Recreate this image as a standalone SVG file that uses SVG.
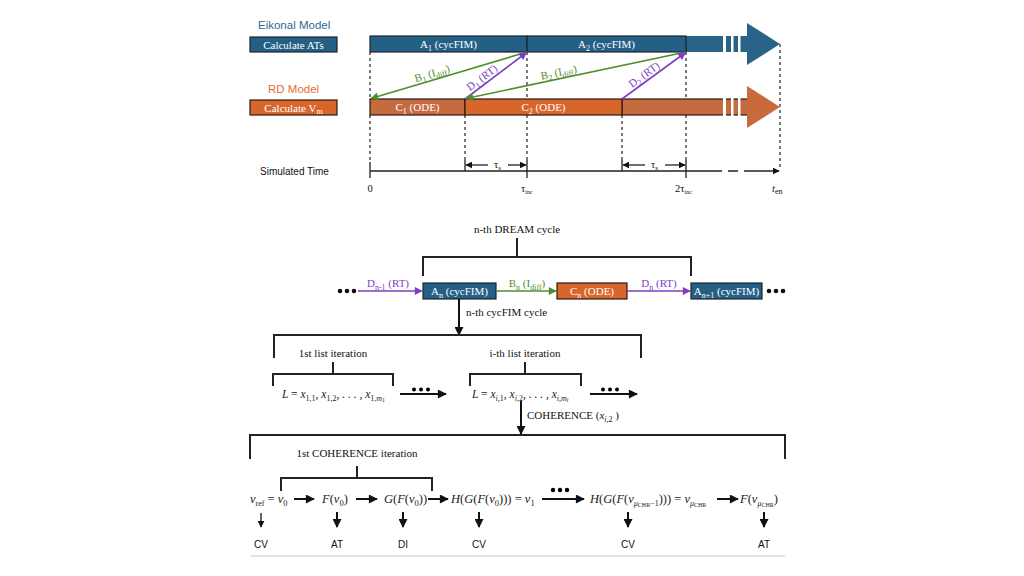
<svg xmlns="http://www.w3.org/2000/svg" width="1024" height="576" viewBox="0 0 1024 576">
<style>
.sans{font-family:"Liberation Sans",Arial,sans-serif}
.serif{font-family:"Liberation Serif","Times New Roman",serif}
.wt{font-family:"Liberation Serif","Times New Roman",serif;font-size:11px;fill:#fff;text-anchor:middle}
.bk{font-family:"Liberation Serif","Times New Roman",serif;font-size:11px;fill:#111}
.math{font-family:"Liberation Serif","Times New Roman",serif;font-style:italic;font-size:12.5px;fill:#222}
.m10{font-family:"Liberation Serif","Times New Roman",serif;font-style:italic;font-size:11.5px;fill:#222}
.up{font-style:normal}
.lab{font-family:"Liberation Sans",Arial,sans-serif;font-size:10px;fill:#111;text-anchor:middle}
.blue{fill:#245F86;stroke:#1a2630;stroke-width:1.2}
.org{fill:#D8662B;stroke:#2a1a12;stroke-width:1.2}
.org2{fill:#C66B3F;stroke:#2a1a12;stroke-width:1.2}
.dash{stroke:#333;stroke-width:1.3;stroke-dasharray:3,3;fill:none}
.br{stroke:#222;stroke-width:2;fill:none}
.ln{stroke:#222;stroke-width:1.3;fill:none}
.thick{stroke:#111;stroke-width:2;fill:none}
.g{stroke:#4F8E2F;stroke-width:1.6;fill:none}
.p{stroke:#7B3FBF;stroke-width:1.6;fill:none}
</style>
<defs>
<marker id="ah" viewBox="0 0 10 10" refX="9" refY="5" markerWidth="10" markerHeight="9" markerUnits="userSpaceOnUse" orient="auto"><path d="M0,0 L10,5 L0,10 z" fill="#111"/></marker>
<marker id="ahs" viewBox="0 0 10 10" refX="9" refY="5" markerWidth="7" markerHeight="7" markerUnits="userSpaceOnUse" orient="auto"><path d="M0,0 L10,5 L0,10 z" fill="#111"/></marker>
<marker id="ahg" viewBox="0 0 10 10" refX="9" refY="5" markerWidth="9" markerHeight="8" markerUnits="userSpaceOnUse" orient="auto"><path d="M0,0 L10,5 L0,10 z" fill="#4F8E2F"/></marker>
<marker id="ahp" viewBox="0 0 10 10" refX="9" refY="5" markerWidth="9" markerHeight="8" markerUnits="userSpaceOnUse" orient="auto"><path d="M0,0 L10,5 L0,10 z" fill="#7B3FBF"/></marker>
</defs>

<!-- ===== Top timeline ===== -->
<g id="labels-top">
<text x="258" y="29" class="sans" font-size="11.5" fill="#2F6A98">Eikonal Model</text>
<text x="268" y="93" class="sans" font-size="11.5" fill="#E0702D">RD Model</text>
<text x="260" y="175" class="sans" font-size="10" fill="#111">Simulated Time</text>
</g>
<g id="calc-ats"><rect x="250" y="37" width="87" height="15" class="blue"/><text x="293.5" y="48.5" class="wt">Calculate ATs</text></g>
<g id="calc-vm"><rect x="250" y="100" width="87" height="15" class="org"/><text x="293.5" y="111.5" class="wt">Calculate V<tspan font-size="8" dy="2.5">m</tspan></text></g>

<g id="dashes">
<path class="dash" d="M370,52V99M370,115V162M465,115V160M527,52V99M527,115V160M622,115V160M686,52V99M686,115V160M780,44V168"/>
</g>

<g id="eikonal-bar">
<rect x="686" y="36" width="62" height="16" fill="#2A6388"/>
<polygon points="747,23 780,44 747,65" fill="#2A6388"/>
<rect x="370" y="36" width="157" height="16" class="blue"/>
<rect x="527" y="36" width="159" height="16" class="blue"/>
<rect x="723" y="34" width="3" height="20" fill="#fff"/>
<rect x="731" y="34" width="2.5" height="20" fill="#fff"/>
<rect x="738" y="34" width="2.5" height="20" fill="#fff"/>
<text x="448.5" y="48" class="wt">A<tspan font-size="8" dy="2.5">1</tspan><tspan dy="-2.5"> (cycFIM)</tspan></text>
<text x="606.5" y="48" class="wt">A<tspan font-size="8" dy="2.5">2</tspan><tspan dy="-2.5"> (cycFIM)</tspan></text>
</g>

<g id="rd-bar">
<rect x="622" y="99" width="126" height="16" class="org2"/>
<polygon points="747,86 780,107 747,128" fill="#C86A3C"/>
<rect x="370" y="99" width="95" height="16" class="org2"/>
<rect x="465" y="99" width="157" height="16" class="org"/>
<rect x="723" y="97" width="3" height="20" fill="#fff"/>
<rect x="731" y="97" width="2.5" height="20" fill="#fff"/>
<rect x="738" y="97" width="2.5" height="20" fill="#fff"/>
<text x="417.5" y="111" class="wt">C<tspan font-size="8" dy="2.5">1</tspan><tspan dy="-2.5"> (ODE)</tspan></text>
<text x="543.5" y="111" class="wt">C<tspan font-size="8" dy="2.5">2</tspan><tspan dy="-2.5"> (ODE)</tspan></text>
</g>

<g id="top-connectors">
<line x1="527" y1="52" x2="371" y2="98.5" class="g" marker-end="url(#ahg)"/>
<line x1="465" y1="99" x2="526.5" y2="52.5" class="p" marker-end="url(#ahp)"/>
<line x1="686" y1="52" x2="466" y2="98.5" class="g" marker-end="url(#ahg)"/>
<line x1="622" y1="99" x2="685.5" y2="52.5" class="p" marker-end="url(#ahp)"/>
<g class="serif" font-size="11" text-anchor="middle">
<text transform="translate(434,79.8) rotate(-16.7)" y="-3" fill="#4F8E2F">B<tspan font-size="8" dy="2.5">1</tspan><tspan dy="-2.5"> (I</tspan><tspan font-size="8" dy="2.5">diff</tspan><tspan dy="-2.5">)</tspan></text>
<text transform="translate(486,83) rotate(-37.2)" y="-3" fill="#7B3FBF">D<tspan font-size="8" dy="2.5">1</tspan><tspan dy="-2.5"> (RT)</tspan></text>
<text transform="translate(560,78.8) rotate(-12)" y="-3" fill="#4F8E2F">B<tspan font-size="8" dy="2.5">2</tspan><tspan dy="-2.5"> (I</tspan><tspan font-size="8" dy="2.5">diff</tspan><tspan dy="-2.5">)</tspan></text>
<text transform="translate(648,80) rotate(-36.3)" y="-3" fill="#7B3FBF">D<tspan font-size="8" dy="2.5">2</tspan><tspan dy="-2.5"> (RT)</tspan></text>
</g>
</g>

<g id="time-axis">
<path class="ln" d="M370,171H722M728,171H738"/>
<line x1="744" y1="171" x2="779" y2="171" class="ln" marker-end="url(#ahs)"/>
<path class="ln" d="M370,162V178M465,160V171M527,160V178M622,160V171M686,160V178"/>
<line x1="488" y1="165" x2="466" y2="165" class="ln" marker-end="url(#ahs)"/>
<line x1="508" y1="165" x2="526" y2="165" class="ln" marker-end="url(#ahs)"/>
<line x1="645" y1="165" x2="623" y2="165" class="ln" marker-end="url(#ahs)"/>
<line x1="665" y1="165" x2="685" y2="165" class="ln" marker-end="url(#ahs)"/>
<g class="serif" font-size="10.5" fill="#111">
<text x="494" y="168">τ<tspan font-size="7" dy="2">s</tspan></text>
<text x="651" y="168">τ<tspan font-size="7" dy="2">s</tspan></text>
<text x="370" y="192" text-anchor="middle">0</text>
<text x="521" y="192">τ<tspan font-size="6" dy="2">inc</tspan></text>
<text x="675" y="192">2τ<tspan font-size="6" dy="2">inc</tspan></text>
<text x="772" y="192" font-style="italic">t<tspan font-style="normal" font-size="8" dy="2">en</tspan></text>
</g>
</g>

<!-- ===== DREAM cycle ===== -->
<g id="dream-bracket">
<text x="517" y="233" class="bk" text-anchor="middle">n-th DREAM cycle</text>
<path class="br" d="M517,238V257M423,276V257H691V276"/>
</g>
<g id="node-An"><rect x="423" y="283" width="73" height="16" class="blue"/><text x="459.5" y="295" class="wt">A<tspan font-size="8" dy="2.5">n</tspan><tspan dy="-2.5"> (cycFIM)</tspan></text></g>
<g id="node-Cn"><rect x="557" y="283" width="70" height="16" class="org"/><text x="592" y="295" class="wt">C<tspan font-size="8" dy="2.5">n</tspan><tspan dy="-2.5"> (ODE)</tspan></text></g>
<g id="node-An1"><rect x="691" y="283" width="71" height="16" class="blue"/><text x="726.5" y="295" class="wt">A<tspan font-size="8" dy="2.5">n+1</tspan><tspan dy="-2.5"> (cycFIM)</tspan></text></g>
<g id="dots-dream" fill="#111">
<circle cx="340" cy="291" r="2.3"/><circle cx="347" cy="291" r="2.3"/><circle cx="354" cy="291" r="2.3"/>
<circle cx="769" cy="291" r="2.3"/><circle cx="776" cy="291" r="2.3"/><circle cx="783" cy="291" r="2.3"/>
</g>
<g id="dream-connectors">
<line x1="358" y1="291" x2="422" y2="291" class="p" marker-end="url(#ahp)"/>
<line x1="496" y1="291" x2="556" y2="291" class="g" marker-end="url(#ahg)"/>
<line x1="627" y1="291" x2="690" y2="291" class="p" marker-end="url(#ahp)"/>
<g class="serif" font-size="11" text-anchor="middle">
<text x="388" y="287" fill="#7B3FBF">D<tspan font-size="8" dy="2.5">n-1</tspan><tspan dy="-2.5"> (RT)</tspan></text>
<text x="527" y="287" fill="#4F8E2F">B<tspan font-size="8" dy="2.5">n</tspan><tspan dy="-2.5"> (I</tspan><tspan font-size="8" dy="2.5">diff</tspan><tspan dy="-2.5">)</tspan></text>
<text x="659" y="287" fill="#7B3FBF">D<tspan font-size="8" dy="2.5">n</tspan><tspan dy="-2.5"> (RT)</tspan></text>
</g>
<line x1="459" y1="299" x2="459" y2="335" class="thick" marker-end="url(#ah)"/>
<text x="466" y="316" class="bk" font-size="10.5">n-th cycFIM cycle</text>
</g>

<!-- ===== cycFIM lists ===== -->
<g id="list-bracket">
<path class="br" d="M274,358V335H641V358"/>
<text x="333" y="357" class="bk" font-size="10.5" text-anchor="middle">1st list iteration</text>
<path class="br" d="M333,362V374M273,386V374H393V386"/>
<text x="525" y="357" class="bk" font-size="10.5" text-anchor="middle">i-th list iteration</text>
<path class="br" d="M525,362V374M470,386V374H581V386"/>
</g>
<g id="list1"><text x="282" y="398" class="m10">L <tspan class="up">=</tspan> x<tspan class="up" font-size="8" dy="2.5">1,1</tspan><tspan dy="-2.5">, x</tspan><tspan class="up" font-size="8" dy="2.5">1,2</tspan><tspan dy="-2.5">, . . . , x</tspan><tspan class="up" font-size="8" dy="2.5">1,</tspan><tspan font-size="8">m</tspan><tspan class="up" font-size="6" dy="1.5">1</tspan></text></g>
<g id="listi"><text x="472" y="398" class="m10">L <tspan class="up">=</tspan> x<tspan font-size="8" dy="2.5">i,</tspan><tspan class="up" font-size="8">1</tspan><tspan dy="-2.5">, x</tspan><tspan font-size="8" dy="2.5">i,</tspan><tspan class="up" font-size="8">2</tspan><tspan dy="-2.5">, . . . , x</tspan><tspan font-size="8" dy="2.5">i,m</tspan><tspan font-size="6" dy="1.5">i</tspan></text></g>
<g id="list-connectors">
<line x1="400" y1="394" x2="446" y2="394" class="thick" marker-end="url(#ah)"/>
<circle cx="414" cy="389.5" r="2"/><circle cx="421" cy="389.5" r="2"/><circle cx="428" cy="389.5" r="2"/>
<line x1="590" y1="394" x2="637" y2="394" class="thick" marker-end="url(#ah)"/>
<circle cx="603" cy="389.5" r="2"/><circle cx="610" cy="389.5" r="2"/><circle cx="617" cy="389.5" r="2"/>
<line x1="521" y1="401" x2="521" y2="434" class="thick" marker-end="url(#ah)"/>
<text x="527" y="419" class="bk" font-size="11">COHERENCE (<tspan font-style="italic">x</tspan><tspan font-style="italic" font-size="8" dy="2.5">i,</tspan><tspan font-size="8">2</tspan><tspan dy="-2.5"> )</tspan></text>
</g>

<!-- ===== COHERENCE ===== -->
<g id="coh-bracket">
<path class="br" d="M250,459V435H785V459"/>
<text x="357" y="457" class="bk" font-size="11" text-anchor="middle">1st COHERENCE iteration</text>
<path class="br" d="M357,466V478M281,491V478H432V491"/>
</g>
<g id="coh-formulas">
<text x="250" y="503" class="math">v<tspan class="up" font-size="8" dy="2.5">ref</tspan><tspan class="up" dy="-2.5"> = </tspan>v<tspan class="up" font-size="8.5" dy="2.5">0</tspan></text>
<text x="322" y="503" class="math">F<tspan class="up">(</tspan>v<tspan class="up" font-size="8.5" dy="2.5">0</tspan><tspan class="up" dy="-2.5">)</tspan></text>
<text x="384" y="503" class="math">G<tspan class="up">(</tspan>F<tspan class="up">(</tspan>v<tspan class="up" font-size="8.5" dy="2.5">0</tspan><tspan class="up" dy="-2.5">))</tspan></text>
<text x="451" y="503" class="math">H<tspan class="up">(</tspan>G<tspan class="up">(</tspan>F<tspan class="up">(</tspan>v<tspan class="up" font-size="8.5" dy="2.5">0</tspan><tspan class="up" dy="-2.5">))) = </tspan>v<tspan class="up" font-size="8.5" dy="2.5">1</tspan></text>
<text x="590" y="503" class="math">H<tspan class="up">(</tspan>G<tspan class="up">(</tspan>F<tspan class="up">(</tspan>v<tspan font-size="8" dy="2.5">μ</tspan><tspan class="up" font-size="6" dy="1">CHR</tspan><tspan class="up" font-size="8" dy="-1">−1</tspan><tspan class="up" dy="-2.5">))) = </tspan>v<tspan font-size="8" dy="2.5">μ</tspan><tspan class="up" font-size="6" dy="1">CHR</tspan></text>
<text x="740" y="503" class="math">F<tspan class="up">(</tspan>v<tspan font-size="8" dy="2.5">μ</tspan><tspan class="up" font-size="6" dy="1">CHR</tspan><tspan class="up" dy="-3.5">)</tspan></text>
</g>
<g id="coh-connectors">
<line x1="294" y1="499" x2="314" y2="499" class="thick" marker-end="url(#ah)"/>
<line x1="356" y1="499" x2="377" y2="499" class="thick" marker-end="url(#ah)"/>
<line x1="428" y1="499" x2="448" y2="499" class="thick" marker-end="url(#ah)"/>
<line x1="542" y1="499" x2="584" y2="499" class="thick" marker-end="url(#ah)"/>
<circle cx="553" cy="490" r="2.2"/><circle cx="560" cy="490" r="2.2"/><circle cx="567" cy="490" r="2.2"/>
<line x1="717" y1="499" x2="738" y2="499" class="thick" marker-end="url(#ah)"/>
<line x1="261" y1="513" x2="261" y2="527" stroke="#111" stroke-width="1.3" marker-end="url(#ahs)"/>
<line x1="337" y1="512" x2="337" y2="527" class="thick" marker-end="url(#ah)"/>
<line x1="403" y1="512" x2="403" y2="527" class="thick" marker-end="url(#ah)"/>
<line x1="479" y1="512" x2="479" y2="527" class="thick" marker-end="url(#ah)"/>
<line x1="628" y1="512" x2="628" y2="527" class="thick" marker-end="url(#ah)"/>
<line x1="764" y1="512" x2="764" y2="527" class="thick" marker-end="url(#ah)"/>
</g>
<g id="outputs">
<text x="261" y="548" class="lab">CV</text>
<text x="337" y="548" class="lab">AT</text>
<text x="403" y="548" class="lab">DI</text>
<text x="479" y="548" class="lab">CV</text>
<text x="628" y="548" class="lab">CV</text>
<text x="764" y="548" class="lab">AT</text>
</g>
<line x1="250" y1="556" x2="785" y2="556" stroke="#ddd" stroke-width="1.5"/>
</svg>
